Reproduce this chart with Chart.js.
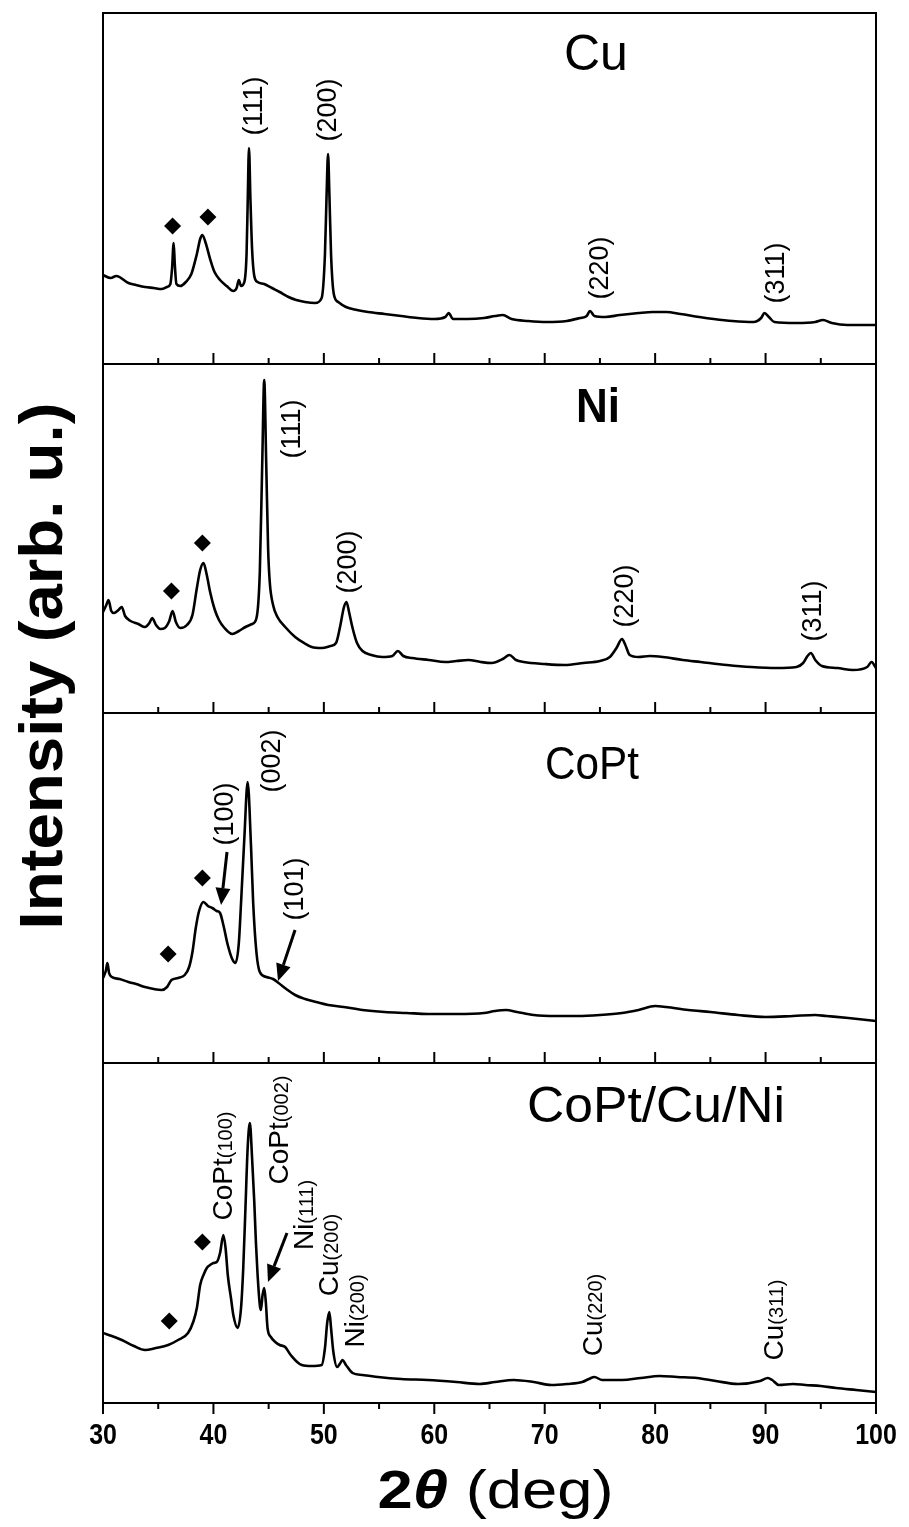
<!DOCTYPE html>
<html>
<head>
<meta charset="utf-8">
<script src="https://cdn.jsdelivr.net/npm/chart.js@4.4.1/dist/chart.umd.min.js"></script>
<style>
  html, body { margin: 0; padding: 0; background: #fff; }
  #wrap { width: 909px; height: 1527px; }
</style>
</head>
<body>
<div id="wrap"><canvas id="xrd" width="909" height="1527"></canvas></div>
<script>
// XRD patterns: [2-theta (deg), intensity (arb. u.)]
const cuPattern = [[30,89],[30.7,86],[31.2,88],[32.3,81],[33.0,79],[33.8,77],[34.6,76],[35.3,75],[35.8,77],[36.1,80],[36.25,95],[36.4,121],[36.5,100],[36.65,80],[37.0,78],[37.5,82],[38.0,90],[38.5,110],[38.8,125],[39.0,129],[39.3,121],[39.7,105],[40.1,92],[40.6,84],[41.2,78],[41.8,73],[42.1,76],[42.3,84],[42.5,78],[42.8,82],[43.0,110],[43.1,160],[43.22,216],[43.35,165],[43.5,115],[43.7,88],[44.0,82],[44.6,80],[45.3,76],[46.0,72],[46.8,67],[47.5,64],[48.3,62],[49.2,61],[49.8,66],[50.1,110],[50.25,170],[50.38,210],[50.5,170],[50.65,110],[50.9,70],[51.3,62],[52.0,57],[53.0,54],[54.0,52],[55.5,50],[57.0,48],[58.5,46],[60.0,45],[61.0,47],[61.3,51],[61.7,45],[63.0,45],[64.5,46],[65.5,48],[66.2,49],[67.0,45],[68.5,43],[70.2,42],[72.0,43],[73.2,46],[73.8,48],[74.1,53],[74.5,48],[75.5,47],[76.8,49],[78.5,51],[79.8,52],[81.0,52],[82.3,50],[84.0,47],[85.3,45],[87.0,43],[88.9,42],[89.6,46],[89.9,51],[90.3,47],[90.8,42],[92.8,41],[94.5,42],[95.2,44],[96.0,41],[97.4,39],[99.0,39],[100,39]];

const niPattern = [[30,101],[30.3,108],[30.5,113],[30.75,102],[31.0,100],[31.4,103],[31.7,106],[32.0,97],[32.5,92],[33.2,89],[33.8,86],[34.2,90],[34.45,95],[34.8,88],[35.2,84],[35.6,85],[36.0,92],[36.3,102],[36.6,91],[37.0,85],[37.6,88],[38.1,98],[38.5,125],[38.8,143],[39.1,150],[39.4,138],[39.7,121],[40.1,104],[40.5,93],[41.0,85],[41.7,79],[42.3,82],[42.9,86],[43.5,89],[43.9,95],[44.2,141],[44.42,250],[44.6,333],[44.78,250],[44.95,165],[45.1,131],[45.4,108],[45.8,96],[46.5,86],[47.4,76],[48.2,70],[48.9,66],[49.8,65],[50.6,67],[51.1,70],[51.5,88],[51.8,105],[52.05,111],[52.3,100],[52.6,85],[53.0,70],[53.5,62],[54.3,58],[55.3,56],[56.2,57],[56.7,62],[57.2,57],[58.0,55],[59.5,53],[61.0,51],[62.0,52],[63.1,53],[64.2,51],[65.2,50],[66.2,54],[66.8,58],[67.4,53],[68.1,51],[70.0,49],[71.8,48],[73.5,50],[75.0,52],[75.9,56],[76.5,65],[77.0,74],[77.3,68],[77.7,58],[78.5,56],[79.5,57],[80.7,56],[82.5,53],[84.1,51],[86.5,48],[88.7,46],[91.0,45],[92.8,46],[93.4,50],[93.8,57],[94.1,60],[94.5,53],[95.1,47],[96.5,45],[97.9,43],[99.2,46],[99.6,51],[100,45]];

const coptPattern = [[30,85],[30.25,92],[30.4,100],[30.55,90],[30.8,86],[31.5,84],[32.3,81],[33.0,79],[33.8,76],[34.6,74],[35.3,73],[35.8,76],[36.2,83],[36.8,85],[37.4,88],[37.8,96],[38.1,111],[38.4,135],[38.7,152],[39.1,161],[39.5,157],[39.9,155],[40.3,152],[40.6,150],[40.9,138],[41.3,118],[41.7,104],[42.0,100],[42.3,120],[42.5,160],[42.8,225],[43.1,281],[43.4,218],[43.6,160],[43.9,110],[44.2,91],[44.8,86],[45.4,84],[45.9,80],[46.6,74],[47.4,68],[48.3,64],[49.3,61],[50.4,58],[51.8,56],[53.5,53],[55.5,51],[57.5,50],[59.4,49],[62.0,49],[64.5,50],[65.5,52],[66.5,53],[67.5,51],[69.0,48],[71.0,47],[73.0,47],[75.0,48],[77.0,50],[78.5,53],[80.0,57],[81.0,56],[83.0,53],[85.0,51],[87.5,48],[90.0,46],[92.5,47],[94.5,48],[95.5,47],[97.5,45],[100,42]];

const mixPattern = [[30,70],[30.8,67],[31.7,63],[32.8,57],[33.8,53],[34.8,55],[35.9,58],[36.8,63],[37.7,70],[38.2,82],[38.5,95],[38.8,118],[39.1,128],[39.4,135],[39.7,138],[40.0,140],[40.3,141],[40.6,150],[40.9,168],[41.1,155],[41.3,128],[41.6,104],[41.8,88],[42.2,75],[42.5,95],[42.7,135],[42.9,195],[43.1,255],[43.3,280],[43.5,245],[43.7,201],[43.85,160],[44.0,128],[44.2,98],[44.3,93],[44.45,108],[44.6,115],[44.75,100],[44.9,75],[45.2,66],[45.6,61],[46.0,58],[46.5,56],[47.0,48],[48.0,38],[48.9,37],[49.8,38],[50.1,55],[50.3,80],[50.5,91],[50.65,75],[50.85,52],[51.2,36],[51.5,40],[51.7,43],[52.0,38],[52.6,30],[53.5,28],[54.9,26],[57.0,24],[59.4,23],[62.0,21],[64.1,19],[65.5,21],[67.2,23],[69.0,21],[70.6,18],[72.0,19],[73.4,21],[74.0,24],[74.5,26],[75.2,23],[77.0,23],[78.7,25],[80.4,27],[82.0,26],[83.8,25],[85.5,22],[87.5,19],[89.5,22],[90.2,25],[90.6,23],[91.2,18],[92.5,19],[93.6,18],[95.0,17],[96.4,15],[98.2,13],[100,11]];

// impurity peaks marked with a diamond: [2-theta, level]
const cuDiamonds = [[36.3, 138], [39.5, 147]];
const niDiamonds = [[36.2, 122], [39.0, 170]];
const coptDiamonds = [[35.9, 109], [39.0, 185]];
const mixDiamonds = [[36.0, 82], [39.0, 161]];

const panelNames = ['Cu', 'Ni', 'CoPt', 'CoPt/Cu/Ni'];
const panelTop = [351, 349, 350, 340];
const tickValues = [30, 40, 50, 60, 70, 80, 90, 100];
const tickLabels = ['30', '40', '50', '60', '70', '80', '90', '100'];

const FONT = '"Liberation Sans", Arial, Helvetica, sans-serif';
const yAxes = ['yCu', 'yNi', 'yCoPt', 'yMix'];

function curve(list, axis) {
    return {
        type: 'line',
        data: list.map(p => ({ x: p[0], y: p[1] })),
        yAxisID: axis,
        borderColor: '#000',
        borderWidth: 2.6,
        borderJoinStyle: 'round',
        pointRadius: 0,
        cubicInterpolationMode: 'monotone',
        fill: false
    };
}

function diamonds(list, axis) {
    return {
        type: 'line',
        data: list.map(p => ({ x: p[0], y: p[1] })),
        yAxisID: axis,
        showLine: false,
        pointStyle: 'rectRot',
        pointRadius: 8.5,
        backgroundColor: '#000',
        borderColor: '#000',
        borderWidth: 0
    };
}

// annotation helpers
const hkl = s => [{ t: s, size: 27 }];
const phase = (a, b) => [{ t: a, size: 28 }, { t: b, size: 20 }];

const notes = [
    { axis: 'yCu', at: [74.64, 312.5], runs: [{ t: panelNames[0], size: 50 }] },
    { axis: 'yCu', at: [43.55, 258], rot: true, runs: hkl('(111)') },
    { axis: 'yCu', at: [50.25, 254], rot: true, runs: hkl('(200)') },
    { axis: 'yCu', at: [74.88, 96], rot: true, runs: hkl('(220)') },
    { axis: 'yCu', at: [90.82, 91], rot: true, runs: hkl('(311)') },

    { axis: 'yNi', at: [74.82, 308], len: 44, runs: [{ t: panelNames[1], size: 48, weight: 'bold' }] },
    { axis: 'yNi', at: [46.99, 284], rot: true, runs: hkl('(111)') },
    { axis: 'yNi', at: [52.06, 151], rot: true, runs: hkl('(200)') },
    { axis: 'yNi', at: [77.14, 117], rot: true, runs: hkl('(220)') },
    { axis: 'yNi', at: [94.17, 102], rot: true, runs: hkl('(311)') },

    { axis: 'yCoPt', at: [74.28, 301], len: 94, runs: [{ t: panelNames[2], size: 46 }] },
    { axis: 'yCoPt', at: [45.18, 302], rot: true, runs: hkl('(002)') },
    { axis: 'yCoPt', at: [40.92, 249], rot: true, runs: hkl('(100)') },
    { axis: 'yCoPt', at: [47.26, 174], rot: true, runs: hkl('(101)') },

    { axis: 'yMix', at: [80.08, 299], len: 258, runs: [{ t: panelNames[3], size: 50 }] },
    { axis: 'yMix', at: [40.78, 237], rot: true, runs: phase('CoPt', '(100)') },
    { axis: 'yMix', at: [45.85, 273], rot: true, runs: phase('CoPt', '(002)') },
    { axis: 'yMix', at: [48.11, 188], rot: true, runs: phase('Ni', '(111)') },
    { axis: 'yMix', at: [50.37, 148], rot: true, runs: phase('Cu', '(200)') },
    { axis: 'yMix', at: [52.73, 92], rot: true, runs: phase('Ni', '(200)') },
    { axis: 'yMix', at: [74.28, 88], rot: true, runs: phase('Cu', '(220)') },
    { axis: 'yMix', at: [90.67, 83], rot: true, runs: phase('Cu', '(311)') }
];

const arrows = [
    { axis: 'yCoPt', from: [41.23, 211], to: [40.69, 158] },
    { axis: 'yCoPt', from: [47.39, 133], to: [45.85, 82] },
    { axis: 'yMix', from: [46.66, 170], to: [44.94, 121] }
];

function fontOf(r) {
    return (r.style || 'normal') + ' ' + (r.weight || 'normal') + ' ' + r.size + 'px ' + FONT;
}

// draws a row of text runs centred on (x, y); optional rotation and stretch
function drawRuns(ctx, runs, x, y, opt) {
    opt = opt || {};
    ctx.save();
    ctx.translate(x, y);
    if (opt.rot) ctx.rotate(-Math.PI / 2);
    let total = 0;
    const widths = runs.map(r => {
        ctx.font = fontOf(r);
        const w = ctx.measureText(r.t).width;
        total += w;
        return w;
    });
    const sx = opt.len ? opt.len / total : (opt.sx || 1);
    ctx.scale(sx, opt.sy || 1);
    ctx.textAlign = 'left';
    ctx.textBaseline = 'alphabetic';
    const base = 0.36 * runs[0].size;
    let cx = -total / 2;
    runs.forEach((r, i) => {
        ctx.font = fontOf(r);
        ctx.fillText(r.t, cx, base + (r.dy || 0));
        cx += widths[i];
    });
    ctx.restore();
}

function drawArrow(ctx, x1, y1, x2, y2) {
    const ang = Math.atan2(y2 - y1, x2 - x1);
    const hl = 17, hw = 7.5;
    const bx = x2 - hl * Math.cos(ang), by = y2 - hl * Math.sin(ang);
    ctx.beginPath();
    ctx.lineWidth = 3;
    ctx.moveTo(x1, y1);
    ctx.lineTo(bx, by);
    ctx.stroke();
    ctx.beginPath();
    ctx.moveTo(x2, y2);
    ctx.lineTo(bx + hw * Math.sin(ang), by - hw * Math.cos(ang));
    ctx.lineTo(bx - hw * Math.sin(ang), by + hw * Math.cos(ang));
    ctx.closePath();
    ctx.fill();
}

const framePlugin = {
    id: 'frame',
    afterDraw(chart) {
        const ctx = chart.ctx;
        const xs = chart.scales.x;
        const yb = chart.chartArea.bottom;
        ctx.save();
        ctx.strokeStyle = '#000';
        ctx.fillStyle = '#000';

        yAxes.forEach(id => {
            const ys = chart.scales[id];
            const last = Math.abs(ys.bottom - yb) < 1;
            ctx.lineWidth = 2;
            ctx.strokeRect(xs.left, ys.top, xs.right - xs.left, ys.bottom - ys.top);
            for (let v = 30; v <= 100; v += 5) {
                const px = xs.getPixelForValue(v);
                const len = v % 10 === 0 ? 11 : 6;
                ctx.beginPath();
                ctx.moveTo(px, ys.bottom);
                ctx.lineTo(px, last ? ys.bottom + len : ys.bottom - len);
                ctx.stroke();
            }
        });

        // x tick labels under the bottom panel
        tickValues.forEach((v, i) => {
            drawRuns(ctx, [{ t: tickLabels[i], size: 29, weight: 'bold' }], xs.getPixelForValue(v), yb + 31, { sx: 0.86 });
        });

        // axis titles
        drawRuns(ctx, [
            { t: '2', size: 54, weight: 'bold' },
            { t: '\u03B8', size: 54, weight: 'bold', style: 'italic' },
            { t: ' (deg)', size: 54 }
        ], (xs.left + xs.right) / 2 + 6, yb + 86, { len: 236 });
        drawRuns(ctx, [{ t: 'Intensity (arb. u.)', size: 62, weight: 'bold' }], 40, 666, { rot: true, len: 527 });

        // peak labels and panel names
        notes.forEach(n => {
            const ys = chart.scales[n.axis];
            drawRuns(ctx, n.runs, xs.getPixelForValue(n.at[0]), ys.getPixelForValue(n.at[1]), { rot: n.rot, len: n.len });
        });

        arrows.forEach(a => {
            const ys = chart.scales[a.axis];
            drawArrow(ctx,
                xs.getPixelForValue(a.from[0]), ys.getPixelForValue(a.from[1]),
                xs.getPixelForValue(a.to[0]), ys.getPixelForValue(a.to[1]));
        });
        ctx.restore();
    }
};

// stacked left axes are laid out bottom-up, so add them in reverse order
const scales = {
    x: { type: 'linear', min: 30, max: 100, display: false }
};
for (let i = yAxes.length - 1; i >= 0; i--) {
    scales[yAxes[i]] = {
        type: 'linear',
        position: 'left',
        stack: 'xrd',
        stackWeight: panelTop[i],
        min: 0,
        max: panelTop[i],
        display: false
    };
}

new Chart(document.getElementById('xrd').getContext('2d'), {
    type: 'line',
    data: {
        datasets: [
            curve(cuPattern, 'yCu'),
            curve(niPattern, 'yNi'),
            curve(coptPattern, 'yCoPt'),
            curve(mixPattern, 'yMix'),
            diamonds(cuDiamonds, 'yCu'),
            diamonds(niDiamonds, 'yNi'),
            diamonds(coptDiamonds, 'yCoPt'),
            diamonds(mixDiamonds, 'yMix')
        ]
    },
    options: {
        responsive: false,
        animation: false,
        devicePixelRatio: 1,
        layout: { padding: { left: 103, right: 33, top: 13, bottom: 124 } },
        plugins: { legend: { display: false }, tooltip: { enabled: false } },
        scales: scales
    },
    plugins: [framePlugin]
});
</script>
</body>
</html>
